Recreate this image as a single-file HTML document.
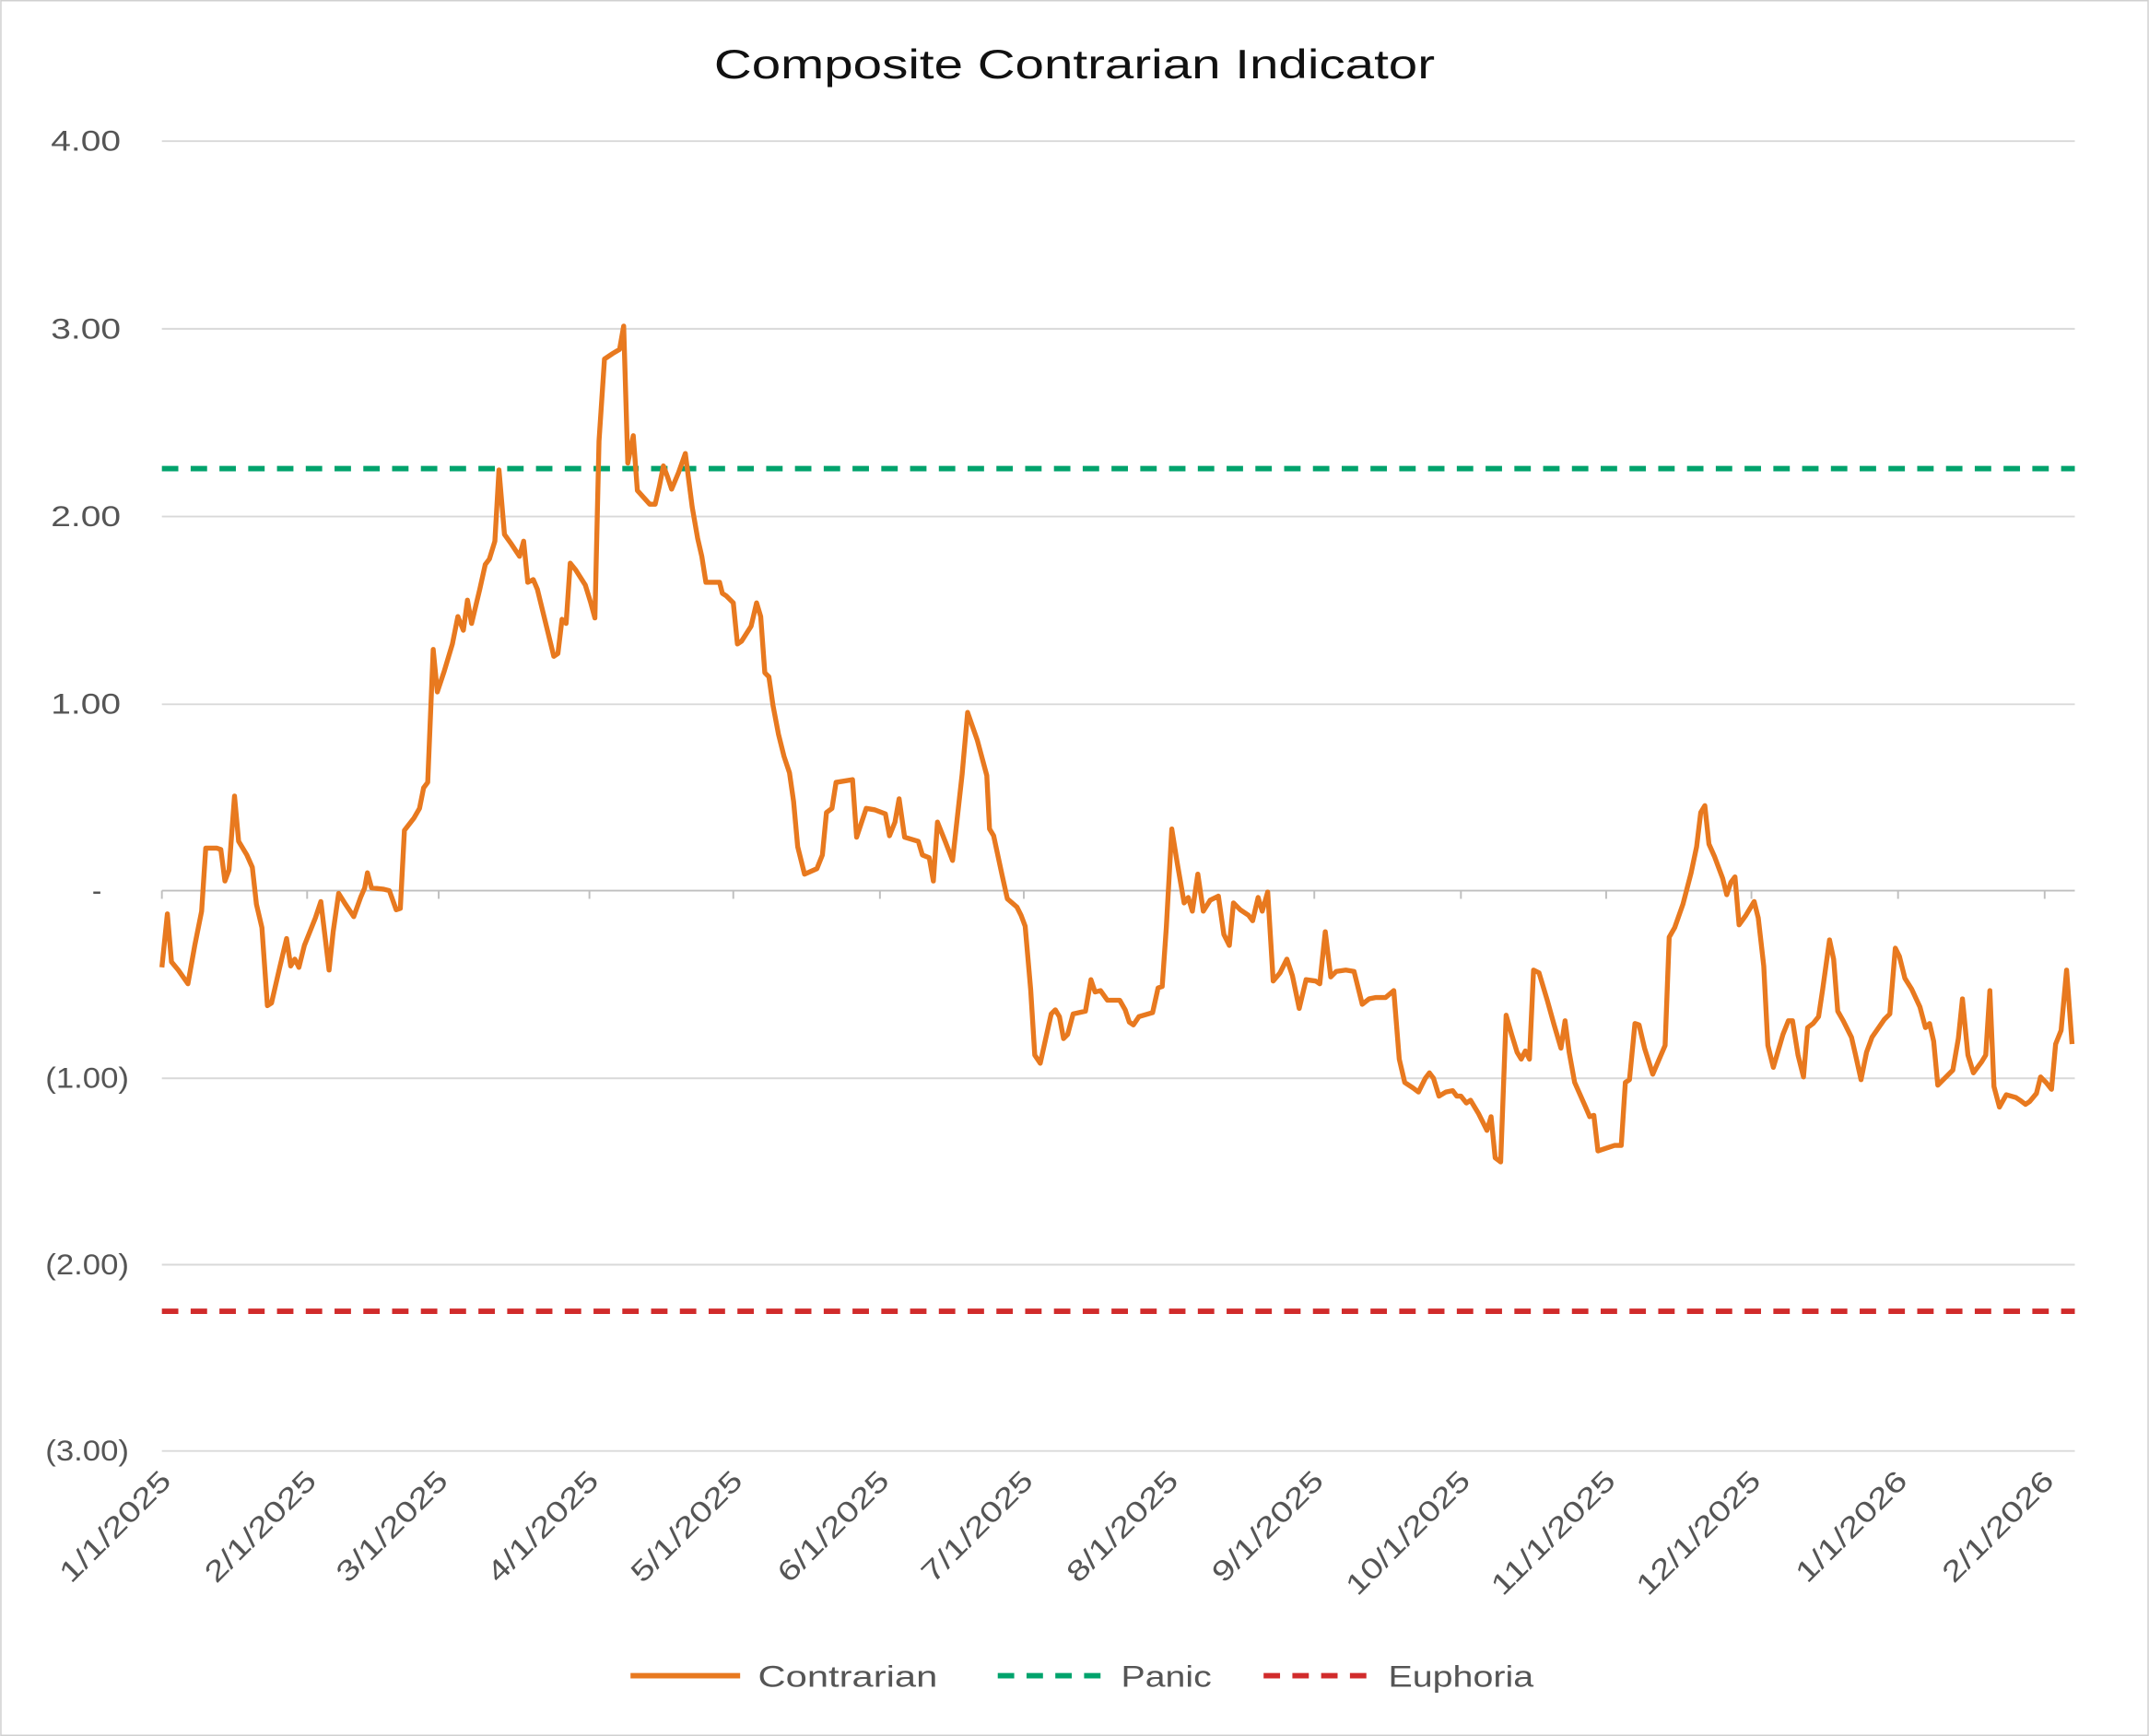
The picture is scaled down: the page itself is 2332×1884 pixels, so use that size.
<!DOCTYPE html>
<html><head><meta charset="utf-8"><style>
html,body{margin:0;padding:0;background:#fff}
svg{display:block}
text{font-family:"Liberation Sans",Arial,sans-serif}
</style></head><body>
<svg width="2332" height="1884" viewBox="0 0 1568 1267" xmlns="http://www.w3.org/2000/svg">
<rect x="0.5" y="0.5" width="1567" height="1266" fill="#fff" stroke="#d0d0d0" stroke-width="1"/>
<text x="521" y="57" font-size="30" fill="#111" textLength="526" lengthAdjust="spacingAndGlyphs">Composite Contrarian Indicator</text>
<g stroke="#d9d9d9" stroke-width="1.3">
<line x1="118" x2="1514" y1="103" y2="103"/><line x1="118" x2="1514" y1="240" y2="240"/>
<line x1="118" x2="1514" y1="377" y2="377"/><line x1="118" x2="1514" y1="514" y2="514"/>
<line x1="118" x2="1514" y1="787" y2="787"/><line x1="118" x2="1514" y1="923" y2="923"/>
<line x1="118" x2="1514" y1="1059" y2="1059"/>
</g>
<line x1="118" x2="1514" y1="650" y2="650" stroke="#bfbfbf" stroke-width="1.3"/>
<g stroke="#bfbfbf" stroke-width="1.3">
<line x1="118" x2="118" y1="650" y2="656"/><line x1="224" x2="224" y1="650" y2="656"/><line x1="320" x2="320" y1="650" y2="656"/><line x1="430" x2="430" y1="650" y2="656"/><line x1="535" x2="535" y1="650" y2="656"/><line x1="642" x2="642" y1="650" y2="656"/><line x1="747" x2="747" y1="650" y2="656"/><line x1="853" x2="853" y1="650" y2="656"/><line x1="959" x2="959" y1="650" y2="656"/><line x1="1066" x2="1066" y1="650" y2="656"/><line x1="1172" x2="1172" y1="650" y2="656"/><line x1="1278" x2="1278" y1="650" y2="656"/><line x1="1385" x2="1385" y1="650" y2="656"/><line x1="1492" x2="1492" y1="650" y2="656"/>
</g>
<g font-size="21" fill="#555">
<text x="37" y="110" textLength="51" lengthAdjust="spacingAndGlyphs">4.00</text>
<text x="37" y="247" textLength="51" lengthAdjust="spacingAndGlyphs">3.00</text>
<text x="37" y="384" textLength="51" lengthAdjust="spacingAndGlyphs">2.00</text>
<text x="37" y="521" textLength="51" lengthAdjust="spacingAndGlyphs">1.00</text>
<text x="67" y="657">-</text>
<text x="33" y="794" textLength="61" lengthAdjust="spacingAndGlyphs">(1.00)</text>
<text x="33" y="930" textLength="61" lengthAdjust="spacingAndGlyphs">(2.00)</text>
<text x="33" y="1066" textLength="61" lengthAdjust="spacingAndGlyphs">(3.00)</text>
</g>
<g font-size="21" fill="#555" text-anchor="end">
<text transform="translate(126,1082) rotate(-45)" textLength="105" lengthAdjust="spacingAndGlyphs">1/1/2025</text>
<text transform="translate(232,1082) rotate(-45)" textLength="105" lengthAdjust="spacingAndGlyphs">2/1/2025</text>
<text transform="translate(328,1082) rotate(-45)" textLength="105" lengthAdjust="spacingAndGlyphs">3/1/2025</text>
<text transform="translate(438,1082) rotate(-45)" textLength="105" lengthAdjust="spacingAndGlyphs">4/1/2025</text>
<text transform="translate(543,1082) rotate(-45)" textLength="105" lengthAdjust="spacingAndGlyphs">5/1/2025</text>
<text transform="translate(650,1082) rotate(-45)" textLength="105" lengthAdjust="spacingAndGlyphs">6/1/2025</text>
<text transform="translate(755,1082) rotate(-45)" textLength="105" lengthAdjust="spacingAndGlyphs">7/1/2025</text>
<text transform="translate(861,1082) rotate(-45)" textLength="105" lengthAdjust="spacingAndGlyphs">8/1/2025</text>
<text transform="translate(967,1082) rotate(-45)" textLength="105" lengthAdjust="spacingAndGlyphs">9/1/2025</text>
<text transform="translate(1074,1082) rotate(-45)" textLength="118" lengthAdjust="spacingAndGlyphs">10/1/2025</text>
<text transform="translate(1180,1082) rotate(-45)" textLength="118" lengthAdjust="spacingAndGlyphs">11/1/2025</text>
<text transform="translate(1286,1082) rotate(-45)" textLength="118" lengthAdjust="spacingAndGlyphs">12/1/2025</text>
<text transform="translate(1393,1082) rotate(-45)" textLength="105" lengthAdjust="spacingAndGlyphs">1/1/2026</text>
<text transform="translate(1500,1082) rotate(-45)" textLength="105" lengthAdjust="spacingAndGlyphs">2/1/2026</text>
</g>
<line x1="118" x2="1514" y1="342" y2="342" stroke="#00a36c" stroke-width="4" stroke-dasharray="12,9"/>
<line x1="118" x2="1514" y1="957" y2="957" stroke="#d12b2b" stroke-width="4" stroke-dasharray="12,9"/>
<polyline fill="none" stroke="#e8791f" stroke-width="3.6" stroke-linejoin="round" points="118,706 122,667 125,702 130,708 137,718 142,690 147,665 150,619 158,619 161,620 164,643 167,635 171,581 174,614 180,624 184,633 187,660 191,677 195,734 198,732 204,706 209,685 212,705 215,700 218,706 222,690 230,670 234,658 240,708 243,680 247,652 252,660 258,669 263,655 266,648 268,637 271,648 280,649 284,650 289,664 292,663 295,606 302,597 306,590 309,575 312,571 316,474 319,505 324,490 330,470 334,450 338,460 341,438 344,455 350,430 354,412 357,408 361,395 364,343 368,390 373,397 379,406 382,395 385,425 389,423 392,430 404,479 407,477 410,452 413,455 416,411 420,416 427,427 431,440 434,451 437,322 441,262 447,258 452,255 455,238 458,338 462,318 465,358 474,368 478,368 481,355 484,340 487,348 490,357 495,345 500,331 505,370 509,393 512,406 515,425 525,425 527,433 530,435 535,440 538,470 541,468 548,457 552,440 555,450 558,491 561,494 564,515 568,536 572,552 576,564 579,585 582,618 587,638 596,634 600,624 603,593 607,590 610,571 622,569 625,611 632,590 638,591 646,594 649,610 653,600 656,583 660,611 670,614 673,624 678,626 681,643 684,600 690,615 695,628 702,565 706,520 713,540 720,566 722,605 725,610 731,638 735,656 742,662 745,668 748,676 752,722 755,770 759,776 767,740 770,737 773,742 776,758 779,755 783,740 792,738 796,715 799,724 803,723 808,730 817,730 821,737 824,746 827,748 831,742 841,739 845,721 848,720 851,677 855,605 859,630 864,659 867,655 870,665 874,638 878,665 883,657 889,654 893,682 897,690 900,659 905,664 911,668 914,672 918,655 921,665 925,651 929,716 934,710 939,700 943,712 948,736 953,715 960,716 963,718 967,680 971,713 975,709 982,708 988,709 994,733 999,729 1004,728 1011,728 1017,723 1021,773 1025,790 1031,794 1035,797 1040,787 1043,783 1046,787 1050,800 1055,797 1060,796 1063,800 1066,800 1070,805 1073,803 1079,813 1085,825 1088,815 1091,845 1095,848 1099,741 1103,755 1107,768 1110,773 1113,767 1116,773 1119,708 1123,710 1129,730 1134,748 1139,765 1142,745 1145,768 1149,790 1157,808 1160,815 1163,814 1166,840 1172,838 1178,836 1183,836 1186,790 1189,788 1193,747 1196,748 1200,765 1206,784 1212,770 1215,763 1218,684 1222,677 1228,660 1234,637 1238,618 1241,593 1244,588 1247,616 1251,625 1257,641 1260,653 1263,644 1266,640 1269,675 1274,668 1280,658 1283,670 1287,705 1290,763 1294,779 1301,755 1305,745 1308,745 1312,770 1316,786 1319,750 1323,747 1327,742 1330,722 1335,686 1338,700 1341,738 1345,745 1351,757 1354,770 1358,788 1362,768 1366,757 1375,744 1379,740 1383,692 1386,698 1390,714 1395,722 1401,735 1405,750 1408,747 1411,760 1414,792 1419,787 1425,781 1429,758 1432,729 1436,770 1440,783 1446,775 1449,770 1452,723 1455,793 1459,808 1464,799 1471,801 1474,803 1478,806 1481,804 1486,798 1489,786 1493,790 1497,795 1500,762 1504,752 1508,708 1512,762"/>
<line x1="460" x2="540" y1="1223" y2="1223" stroke="#e8791f" stroke-width="4"/>
<text x="553" y="1231" font-size="22" fill="#555" textLength="131" lengthAdjust="spacingAndGlyphs">Contrarian</text>
<line x1="728" x2="808" y1="1223" y2="1223" stroke="#00a36c" stroke-width="4" stroke-dasharray="12,9"/>
<text x="818" y="1231" font-size="22" fill="#555" textLength="66" lengthAdjust="spacingAndGlyphs">Panic</text>
<line x1="922" x2="1002" y1="1223" y2="1223" stroke="#d12b2b" stroke-width="4" stroke-dasharray="12,9"/>
<text x="1013" y="1231" font-size="22" fill="#555" textLength="106" lengthAdjust="spacingAndGlyphs">Euphoria</text>
</svg>
</body></html>
